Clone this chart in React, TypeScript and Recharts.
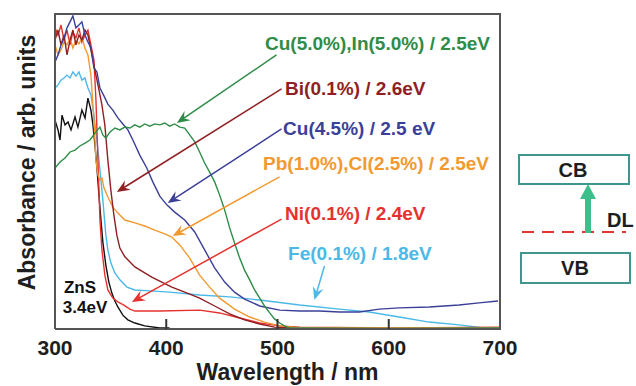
import React from 'react';
import { LineChart, Line, XAxis, YAxis, ReferenceLine, ReferenceDot, Label } from 'recharts';

// ---- Data: [wavelength nm, absorbance a.u.] ----
const znsSeries: [number, number][] = [
  [300, 66.3], [302.7, 63.2], [304.5, 60.0], [306.3, 67.9], [309, 64.8], [311.7, 65.7], [314.4, 63.2],
  [318, 67.3], [320.6, 64.1], [324.2, 69.5], [327, 67.0], [329.6, 73.3], [332.3, 69.5], [334.1, 64.8],
  [335.9, 58.4], [337.7, 51.1], [339.5, 42.5], [341.3, 34.6], [343, 27.6], [345.7, 20.3], [348.4, 14.9],
  [351.1, 11.4], [353.8, 8.9], [356.5, 7.0], [361, 4.4], [365.5, 2.9], [371.8, 1.9], [380.7, 1.0],
  [394.2, 0.3], [403, 0.3],
];
const cuInSeries: [number, number][] = [
  [300, 51.1], [304.5, 53.0], [309, 54.3], [313.5, 56.2], [318, 56.8], [322.4, 58.1], [327, 59.0],
  [331.4, 60.0], [336, 62.2], [340.4, 64.1], [343, 61.6], [345.7, 60.6], [349.3, 62.5], [353.8, 63.8],
  [358.3, 63.2], [362.8, 64.1], [367.3, 63.8], [371.8, 64.8], [376.2, 64.1], [380.7, 65.1], [385.2, 64.4],
  [389.7, 65.1], [394.2, 64.8], [398.7, 65.4], [403.1, 64.4], [407.6, 65.1], [412.1, 64.1], [416.6, 63.8],
  [421.1, 61.6], [425.6, 59.4], [430, 56.2], [434.5, 52.7], [439, 49.8], [443.5, 46.7], [448, 42.5],
  [452.5, 37.8], [457, 32.1], [461.4, 27.3], [466, 22.5], [470.4, 18.7], [475, 15.6], [479.4, 12.4],
  [484, 9.8], [488.4, 7.3], [493, 5.1], [497.3, 3.2], [502, 1.9], [506.3, 1.0], [511, 0.3], [600, 0.2], [700, 0.3],
];
const biSeries: [number, number][] = [
  [300, 91.7], [302.7, 94.9], [305.4, 90.2], [308.1, 93.3], [310.8, 87.0], [313.5, 91.7], [316.1, 94.9],
  [318.8, 90.2], [321.5, 93.3], [324.2, 91.7], [326.9, 94.9], [329.6, 93.3], [332.3, 88.6], [335.9, 82.2],
  [339.5, 75.9], [342.2, 71.1], [344.8, 64.8], [347.5, 53.7], [350.2, 44.1], [352.9, 36.2], [355.6, 29.8],
  [358.3, 25.7], [362.8, 22.9], [371.8, 19.7], [387, 16.5], [405, 13.3], [416.6, 11.7], [430, 9.8],
  [443.5, 7.3], [457, 4.8], [470.4, 2.9], [484, 1.6], [497.3, 0.6], [511, 0.3],
];
const cuSeries: [number, number][] = [
  [300, 84.8], [302.7, 87.0], [305.4, 90.2], [308.1, 92.4], [310.8, 95.6], [313.5, 97.5], [316.1, 99.4],
  [318.8, 95.6], [321.5, 96.5], [324.2, 97.5], [326.9, 93.3], [329.6, 91.1], [332.3, 89.2], [335, 82.9],
  [337.7, 81.6], [340.4, 76.5], [344, 74.0], [347.5, 71.4], [352, 69.5], [356.5, 67.0], [361, 65.1],
  [365.5, 63.2], [370, 60.0], [376.2, 55.2], [382.5, 51.1], [387.9, 46.7], [394.2, 42.2], [400.5, 39.4],
  [407.6, 37.1], [416.6, 34.6], [425.6, 30.8], [434.5, 25.1], [443.5, 19.4], [452.5, 14.9], [461.4, 11.7],
  [470.4, 9.5], [484, 7.3], [502, 6.0], [520, 5.7], [538, 5.7], [555.6, 5.4], [573.6, 5.4], [591.5, 6.3],
  [609.4, 6.7], [636.3, 7.0], [663.2, 7.6], [681.2, 8.3], [698.2, 8.9],
];
const pbClSeries: [number, number][] = [
  [300, 90.2], [302.7, 87.0], [305.4, 88.6], [308.1, 91.1], [310.8, 90.2], [313.5, 92.4], [316.1, 89.2],
  [318.8, 91.7], [321.5, 90.5], [324.2, 92.4], [326.9, 89.2], [329.6, 87.0], [332.3, 80.6], [335, 66.3],
  [336.8, 53.7], [338.6, 48.9], [340.4, 47.3], [342.2, 47.9], [344, 44.8], [347.5, 41.9], [352, 38.7],
  [356.5, 36.8], [362.8, 34.6], [371.8, 33.7], [380.7, 32.7], [389.7, 31.4], [398.7, 30.2], [405, 29.2],
  [412.1, 26.7], [421.1, 22.5], [430, 17.1], [439, 13.3], [448, 9.8], [461.4, 6.3], [475, 3.8],
  [488.4, 2.2], [502, 1.0], [520, 0.3], [700, 0.3],
];
const niSeries: [number, number][] = [
  [300, 95.6], [302.7, 93.3], [305.4, 96.5], [308.1, 91.7], [310.8, 94.9], [313.5, 90.2], [316.1, 94.3],
  [318.8, 92.4], [321.5, 95.6], [324.2, 91.1], [326.9, 93.3], [329.6, 94.9], [332.3, 90.2], [335, 85.4],
  [336.8, 72.7], [338.6, 53.7], [340.4, 34.6], [342.2, 25.1], [344.8, 17.1], [347.5, 12.4], [352, 9.8],
  [356.5, 8.6], [361.9, 7.6], [367.3, 6.3], [371.8, 5.7], [394.2, 5.7], [430, 6.0], [448, 5.1],
  [466, 3.5], [484, 1.9], [502, 1.0], [520, 0.6], [609, 0.3], [699, 0.6],
];
const feSeries: [number, number][] = [
  [300, 76.5], [302.7, 77.5], [305.4, 79.0], [308.1, 79.7], [310.8, 80.6], [313.5, 79.7], [316.1, 81.6],
  [318.8, 80.3], [321.5, 81.6], [324.2, 79.0], [326.9, 79.7], [329.6, 76.5], [332.3, 74.3], [335, 67.9],
  [337.7, 60.0], [340.4, 50.5], [343, 41.0], [345.7, 29.8], [347.5, 25.1], [350.2, 21.0], [353.8, 17.8],
  [358.3, 15.6], [364.6, 13.3], [371.8, 12.4], [385.2, 12.1], [403.1, 11.7], [430, 10.8], [457, 10.2],
  [484, 9.2], [520, 7.6], [555.6, 6.3], [582.5, 5.4], [609.4, 3.8], [636.3, 2.2], [663.2, 1.3],
  [685.7, 0.3], [699, 0.3],
];

const xTicks = [300, 400, 500, 600, 700];

// annotation labels: text, label anchor (wl, abs), arrow start, arrow tip
const labelTexts = [
  'Cu(5.0%),In(5.0%) / 2.5eV',
  'Bi(0.1%) / 2.6eV',
  'Cu(4.5%) / 2.5 eV',
  'Pb(1.0%),Cl(2.5%) / 2.5eV',
  'Ni(0.1%) / 2.4eV',
  'Fe(0.1%) / 1.8eV',
];
const labelPos: [number, number][] = [[488.8, 90.8], [506.8, 76.5], [505, 63.8], [487, 52.7], [506.8, 36.8], [509.5, 24.1]];
const arrowFrom: [number, number][] = [[499.1, 87.0], [503.6, 76.2], [503.6, 63.5], [501.8, 48.3], [503.6, 34.9], [542.2, 20.0]];
const arrowTo: [number, number][] = [[409.6, 65.4], [355.6, 43.5], [401.3, 40.0], [405.8, 29.5], [369.1, 8.6], [533.2, 9.2]];

const C_GREEN = '#2f8c48';
const C_BI = '#8e1f22';
const C_CU = '#3b3f98';
const C_PB = '#f29a30';
const C_NI = '#e5322e';
const C_FE = '#4bb9e8';
const C_ZNS = '#111111';
const colors = [C_GREEN, C_BI, C_CU, C_PB, C_NI, C_FE];

const FONT = 'Liberation Sans, Arial, Helvetica, sans-serif';
const FRAME = { stroke: '#555', strokeWidth: 2 };

const toData = (s: [number, number][]) => s.map(([wl, a]) => ({ wl, a }));

const XTick = (props: any) => {
  const { x, y, payload } = props;
  const v = payload.value;
  return (
    <g>
      {v > 300 && v < 700 && <line x1={x} x2={x} y1={y} y2={y - 10} stroke="#333" strokeWidth={2} />}
      <text x={x} y={y + 26} textAnchor="middle" fontSize={21} fontWeight="bold" fill="#1e1e1e" fontFamily={FONT}>
        {v}
      </text>
    </g>
  );
};

const makeArrow = (color: string) => (props: any) => {
  const { x1, y1, x2, y2 } = props;
  if ([x1, y1, x2, y2].some((v) => typeof v !== 'number' || isNaN(v))) return null;
  const dx = x2 - x1;
  const dy = y2 - y1;
  const len = Math.sqrt(dx * dx + dy * dy) || 1;
  const ux = dx / len;
  const uy = dy / len;
  const px = -uy;
  const py = ux;
  const hl = 13;
  const hw = 5.5;
  const bx = x2 - ux * hl;
  const by = y2 - uy * hl;
  const nx = x2 - ux * hl * 0.65;
  const ny = y2 - uy * hl * 0.65;
  const pts = `${x2},${y2} ${bx + px * hw},${by + py * hw} ${nx},${ny} ${bx - px * hw},${by - py * hw}`;
  return (
    <g>
      <line x1={x1} y1={y1} x2={nx} y2={ny} stroke={color} strokeWidth={1.5} />
      <polygon points={pts} fill={color} />
    </g>
  );
};

// frame edge drawn from an interior anchor segment, extended to the plot edges
const makeEdge = (kind: 'top' | 'right') => (props: any) => {
  const { x1, y1, x2, y2 } = props;
  if ([x1, y1, x2, y2].some((v) => typeof v !== 'number' || isNaN(v))) return null;
  if (kind === 'top') {
    // segment from (300.2, 99.9) to (699.8, 99.9): extend slightly to the corners
    const k = (x2 - x1) / 399.6;
    return <line x1={x1 - 0.2 * k} y1={y1 - 0.1 * 3.15} x2={x2 + 0.2 * k} y2={y2 - 0.1 * 3.15} stroke="#555" strokeWidth={2} />;
  }
  const k = (x2 - x1) || 0;
  return <line x1={x1 + 0.2 * 1.1125 + k} y1={y1 + 0.1 * 3.15} x2={x2 + 0.2 * 1.1125} y2={y2 - 0.1 * 3.15} stroke="#555" strokeWidth={2} />;
};

const makeText = (text: string, color: string, anchor: string = 'start', size = 19) => (props: any) => {
  const { cx, cy } = props;
  if (typeof cx !== 'number' || typeof cy !== 'number') return null;
  return (
    <text x={cx} y={cy} dy="0.36em" textAnchor={anchor} fontSize={size} fontWeight="bold" fill={color} fontFamily={FONT}>
      {text}
    </text>
  );
};

const BandDiagram = () => (
  <svg width={136} height={386} style={{ position: 'absolute', left: 500, top: 0 }}>
    <rect x={19} y={155} width={110} height={29} fill="#fff" stroke="#3f968f" strokeWidth={2} />
    <text x={73} y={170} dy="0.36em" textAnchor="middle" fontSize={20} fontWeight="bold" fill="#1e1e1e" fontFamily={FONT}>CB</text>
    <rect x={21} y={253} width={109} height={30} fill="#fff" stroke="#3f968f" strokeWidth={2} />
    <text x={75} y={268} dy="0.36em" textAnchor="middle" fontSize={20} fontWeight="bold" fill="#1e1e1e" fontFamily={FONT}>VB</text>
    <line x1={22} x2={126} y1={232} y2={232} stroke="#e5352c" strokeWidth={2} strokeDasharray="12 8" />
    <rect x={85} y={198} width={6} height={35} fill="#3dbf8c" />
    <polygon points="88,184 80,199 96,199" fill="#3dbf8c" />
    <text x={107} y={220} dy="0.36em" textAnchor="start" fontSize={20} fontWeight="bold" fill="#1e1e1e" fontFamily={FONT}>DL</text>
  </svg>
);

export default function App() {
  const series: { data: [number, number][]; color: string; key: string }[] = [
    { data: znsSeries, color: C_ZNS, key: 'zns' },
    { data: feSeries, color: C_FE, key: 'fe' },
    { data: niSeries, color: C_NI, key: 'ni' },
    { data: pbClSeries, color: C_PB, key: 'pb' },
    { data: biSeries, color: C_BI, key: 'bi' },
    { data: cuSeries, color: C_CU, key: 'cu' },
    { data: cuInSeries, color: C_GREEN, key: 'cuin' },
  ];
  return (
    <div style={{ position: 'absolute', left: 0, top: 0, width: 636, height: 386, background: '#fff', overflow: 'hidden' }}>
      <LineChart width={636} height={386} margin={{ top: 14, right: 136, bottom: 0, left: 0 }}>
        <XAxis
          dataKey="wl"
          type="number"
          domain={[300, 700]}
          ticks={xTicks}
          allowDataOverflow
          tickSize={0}
          tickMargin={0}
          axisLine={FRAME}
          tickLine={false}
          tick={<XTick />}
          height={57}
          interval={0}
        >
          <Label
            content={(p: any) => {
              const vb = p.viewBox || {};
              return (
                <text x={vb.x + vb.width / 2 + 10} y={vb.y + 51} textAnchor="middle" fontSize={23} fontWeight="bold" fill="#1e1e1e" fontFamily={FONT}>
                  Wavelength / nm
                </text>
              );
            }}
          />
        </XAxis>
        <YAxis type="number" domain={[0, 100]} width={55} tick={false} tickLine={false} axisLine={FRAME} allowDataOverflow>
          <Label
            content={(p: any) => {
              const vb = p.viewBox || {};
              const cx = vb.x + vb.width / 2 - 1;
              const cy = vb.y + vb.height / 2 - 9;
              return (
                <text x={cx} y={cy} dy="0.36em" transform={`rotate(-90 ${cx} ${cy})`} textAnchor="middle" fontSize={23} fontWeight="bold" fill="#1e1e1e" fontFamily={FONT}>
                  Absorbance / arb. units
                </text>
              );
            }}
          />
        </YAxis>
        <ReferenceLine segment={[{ x: 300.2, y: 99.9 }, { x: 699.8, y: 99.9 }]} ifOverflow="visible" shape={makeEdge('top')} />
        <ReferenceLine segment={[{ x: 699.8, y: 0.1 }, { x: 699.8, y: 99.9 }]} ifOverflow="visible" shape={makeEdge('right')} />
        {series.map((s) => (
          <Line
            key={s.key}
            data={toData(s.data)}
            dataKey="a"
            type="linear"
            stroke={s.color}
            strokeWidth={1.4}
            dot={false}
            activeDot={false}
            isAnimationActive={false}
          />
        ))}
        {labelTexts.map((t, i) => (
          <ReferenceLine
            key={'ar' + i}
            segment={[{ x: arrowFrom[i][0], y: arrowFrom[i][1] }, { x: arrowTo[i][0], y: arrowTo[i][1] }]}
            ifOverflow="visible"
            shape={makeArrow(colors[i])}
          />
        ))}
        {labelTexts.map((t, i) => (
          <ReferenceDot key={'lb' + i} x={labelPos[i][0]} y={labelPos[i][1]} r={0} ifOverflow="visible" shape={makeText(t, colors[i])} />
        ))}
        <ReferenceDot x={322.5} y={13.3} r={0} ifOverflow="visible" shape={makeText('ZnS', C_ZNS, 'middle', 17)} />
        <ReferenceDot x={327} y={7.0} r={0} ifOverflow="visible" shape={makeText('3.4eV', C_ZNS, 'middle', 17)} />
      </LineChart>
      <div
        style={{
          position: 'absolute',
          left: 54,
          top: 13,
          width: 445,
          height: 315,
          borderTop: '2px solid #555',
          borderRight: '2px solid #555',
          pointerEvents: 'none',
        }}
      />
      <BandDiagram />
    </div>
  );
}
